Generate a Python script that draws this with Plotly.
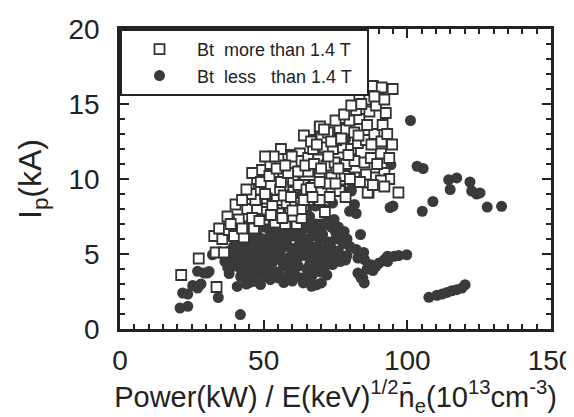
import plotly.graph_objects as go

# Bt more than 1.4 T (open squares)
sq_x = [21.3, 27.4, 33.6, 33.3, 36.2, 32.8, 35.6, 34.5, 37.9, 39.7, 43.1, 37.4, 41.4, 44.8,
        40.2, 44.3, 47.7, 51.1, 55.2, 59.2, 62.1, 50.0, 54.0, 57.5, 61.5, 42.5, 46.6, 47.1,
        51.1, 54.6, 58.0, 61.5, 47.7, 48.3, 55.7, 60.3, 49.4, 52.3, 53.4, 56.9, 60.9, 58.6,
        62.6, 60.9, 59.8, 63.2, 65.5, 69.0, 71.8, 74.7, 78.7, 81.6, 85.1, 87.3, 90.8, 65.5,
        69.5, 73.6, 78.2, 81.6, 85.6, 89.1, 92.0, 60.3, 63.8, 67.2, 71.3, 74.1, 77.6, 80.4,
        82.8, 85.6, 88.5, 91.4, 66.7, 75.3, 69.5, 72.4, 76.4, 78.7, 79.9, 83.3, 82.2, 86.8,
        89.1, 85.6, 92.0, 86.8, 90.2, 85.4, 94.9, 83.3, 94.7, 93.7, 93.7, 96.9, 86.5, 76.6,
        62.1, 64.9, 67.8, 70.1, 72.4, 76.4, 86.2, 90.8, 60.9, 63.8, 65.5, 69.5, 71.3, 60.3,
        63.2, 64.0, 88.0, 91.1, 66.5, 69.6,
        45.5, 46.0, 49.0, 50.5, 52.0, 53.0, 54.5, 56.0, 57.0, 58.5, 59.5, 62.0, 63.0, 64.5,
        66.5, 67.5, 68.5, 70.0, 71.0, 72.5, 73.5, 75.0, 76.0, 77.0, 78.0, 79.5, 80.5, 81.5,
        83.0, 84.0, 86.0, 87.5, 88.5, 89.5, 91.0, 92.5, 93.0, 56.0, 53.5, 57.5, 44.0, 42.5,
        38.5, 50.5, 46.0, 48.5, 52.5, 56.5, 60.0, 64.0, 67.0, 69.5, 73.0, 75.0, 78.5, 80.0,
        83.5, 88.0, 92.0]
sq_y = [3.6, 4.7, 2.8, 5.1, 5.1, 6.2, 6.0, 6.7, 6.6, 6.2, 6.1, 7.5, 7.3, 7.5,
        8.3, 8.0, 8.0, 7.8, 7.7, 7.8, 7.6, 7.3, 7.1, 7.0, 7.0, 6.7, 6.7, 8.6,
        8.7, 8.6, 8.4, 8.5, 10.0, 9.3, 9.3, 9.4, 10.6, 11.0, 10.2, 10.1, 9.8, 11.6,
        11.7, 11.0, 11.5, 11.2, 11.4, 11.3, 10.9, 11.1, 11.0, 11.2, 11.1, 11.4, 11.7, 10.5,
        10.3, 10.1, 10.2, 10.1, 10.3, 10.1, 10.4, 9.9, 9.6, 12.0, 12.1, 12.0, 12.1, 12.0,
        12.4, 12.6, 13.0, 13.6, 12.6, 12.6, 13.4, 13.1, 13.4, 13.3, 13.9, 14.0, 14.6, 14.5,
        14.9, 15.3, 15.3, 16.1, 16.0, 16.1, 16.0, 15.6, 12.3, 11.4, 10.0, 9.1, 9.1, 9.3,
        9.6, 9.3, 9.6, 9.1, 9.7, 9.2, 9.1, 9.9, 8.4, 8.2, 8.6, 8.6, 7.8, 7.5,
        7.4, 12.9, 16.2, 16.1, 12.5, 13.5,
        9.0, 10.4, 9.8, 9.0, 10.2, 8.2, 10.7, 9.8, 8.9, 10.4, 8.8, 10.5, 8.0, 10.9,
        9.4, 11.0, 12.3, 10.7, 13.3, 11.5, 12.5, 13.9, 10.7, 12.7, 14.3, 11.6, 14.9, 13.1,
        12.9, 15.0, 13.6, 12.3, 15.5, 11.0, 12.5, 14.4, 13.0, 12.0, 11.5, 10.9, 9.3, 8.6,
        7.0, 11.5, 7.4, 7.2, 7.6, 7.4, 7.9, 8.6, 8.8, 9.8, 8.8, 9.7, 8.8, 10.0,
        9.8, 9.6, 9.5]

# Bt less than 1.4 T (filled circles)
ci_x = [101.1, 103.4, 105.5, 114.4, 117.2, 114.9, 121.8, 122.4, 124.1, 125.3, 108.9, 105.2,
        127.8, 132.8, 94.0, 95.0, 94.3, 95.4, 99.8, 93.1,
        107.5, 110.3, 112.1, 113.8, 115.5, 117.2, 119.0, 120.1,
        80.5, 81.6, 79.9, 82.2, 83.7, 77.6, 78.7, 82.2, 82.8, 85.1, 87.3, 89.1, 90.2, 92.0,
        93.1, 82.8, 84.5, 83.9, 85.0,
        63.2, 63.8, 66.7, 68.4, 70.1,
        21.8, 23.6, 20.9, 23.6, 25.3, 27.0, 28.2, 27.0, 29.3, 30.4, 34.2, 32.2, 41.9, 31.0, 40.8,
        46.6, 48.9, 52.3, 55.2, 58.6, 46.0, 50.6, 54.0, 44.0, 45.0,
        78.5, 77.2, 72.2, 63.3, 80.4, 39.2,
        53.2, 55.7, 58.9, 60.5, 64.6, 66.0, 68.4, 72.2, 73.5,
        44.0, 47.0, 50.0, 52.0, 55.0, 57.0, 60.0, 62.0, 64.0, 67.0, 70.0, 75.0, 77.0,
        40.0, 42.5, 45.0, 47.5, 50.0, 52.5, 55.0, 57.5, 60.0, 62.5, 65.0, 67.5, 70.0, 72.5, 75.0,
        38.0, 39.5, 41.0, 43.5, 46.0, 48.5, 51.0, 53.5, 56.0, 58.5, 61.0, 63.5, 66.0, 68.5,
        71.0, 73.5, 76.0,
        39.0, 41.5, 44.0, 46.5, 49.0, 51.5, 54.0, 56.5, 59.0, 61.5, 64.0, 66.5, 69.0, 71.5,
        74.0, 79.0,
        39.5, 42.0, 44.5, 47.0, 49.5, 52.0, 57.0, 59.5, 62.0, 65.0, 68.0, 71.0, 74.0, 76.6, 78.5,
        42.0, 61.0, 66.0, 72.0, 38.0,
        40.5, 43.0, 45.5, 48.0, 50.5, 53.0, 55.5, 58.0, 60.5, 63.0, 65.5, 68.0, 70.5, 73.0,
        41.0, 43.0, 45.5, 48.0, 50.5, 53.0, 55.5, 58.0, 60.5, 63.0, 66.0, 69.0, 72.0,
        57.0, 62.5, 66.5, 70.0, 74.5, 76.0, 78.0, 79.0, 80.0, 75.5,
        44.5, 48.0, 51.0, 55.0, 57.0, 60.0, 67.0, 70.0, 36.5, 37.5, 38.0, 42.0, 49.0, 51.0,
        54.0, 57.0, 61.0, 62.0, 65.0, 68.0, 71.0, 74.0, 84.8, 86.0, 88.0, 97.0]
ci_y = [13.9, 10.85, 10.7, 9.95, 10.07, 9.3, 9.8, 9.2, 9.0, 9.07, 8.5, 7.85,
        8.13, 8.18, 8.1, 8.2, 10.95, 4.85, 4.95, 4.5,
        2.11, 2.25, 2.33, 2.44, 2.55, 2.62, 2.73, 2.95,
        9.2, 8.3, 7.85, 7.7, 6.3, 5.7, 5.85, 5.3, 4.73, 4.62, 4.29, 4.18, 4.4, 4.62,
        4.85, 3.73, 3.4, 3.4, 3.07,
        3.4, 3.07, 2.85, 2.95, 3.07,
        2.4, 2.33, 1.4, 1.51, 2.9, 2.73, 3.0, 3.85, 3.73, 3.73, 2.1, 4.95, 0.96, 3.84, 2.84,
        3.18, 2.96, 3.29, 3.4, 3.62, 3.84, 3.84, 3.73, 3.0, 3.1,
        12.65, 10.8, 10.9, 9.0, 9.3, 7.1,
        7.5, 7.2, 7.1, 7.6, 7.2, 7.5, 7.0, 7.2, 6.8,
        6.6, 6.5, 6.8, 6.6, 6.7, 6.5, 6.8, 6.5, 6.7, 6.5, 6.6, 6.5, 6.3,
        6.0, 5.9, 6.1, 5.8, 6.0, 6.2, 5.9, 6.1, 6.2, 5.9, 6.0, 6.2, 6.0, 5.8, 6.0,
        5.2, 5.5, 5.3, 5.5, 5.3, 5.5, 5.3, 5.6, 5.3, 5.5, 5.4, 5.6, 5.3, 5.5,
        5.3, 5.4, 5.2,
        4.7, 4.9, 4.6, 4.8, 4.6, 4.9, 4.7, 4.5, 4.8, 4.6, 4.9, 4.7, 4.5, 4.8,
        4.6, 4.9,
        4.2, 4.0, 4.3, 4.1, 4.3, 4.0, 4.2, 4.0, 4.2, 4.0, 4.2, 4.0, 4.3, 4.5, 4.6,
        3.5, 3.6, 3.5, 3.6, 3.7,
        6.4, 6.2, 5.6, 6.2, 5.6, 5.1, 6.3, 5.7, 5.0, 6.3, 5.7, 5.0, 6.3, 5.1,
        4.4, 5.0, 4.4, 5.1, 4.3, 4.4, 5.0, 4.4, 4.3, 5.2, 4.3, 4.8, 4.4,
        6.9, 7.3, 6.9, 7.0, 7.3, 6.8, 6.5, 6.0, 5.5, 4.8,
        3.6, 3.6, 3.5, 3.8, 3.1, 3.2, 3.6, 3.8, 4.5, 4.1, 6.3, 7.0, 7.0, 7.4,
        7.9, 7.7, 8.0, 8.3, 8.0, 8.2, 8.0, 8.4, 5.1, 4.0, 3.9, 4.9]

ink = "#222222"
font = "Liberation Sans, Arial, Helvetica, sans-serif"

fig = go.Figure()
fig.add_trace(go.Scatter(x=ci_x, y=ci_y, mode="markers",
                         name="Bt\u00a0\u00a0less\u00a0\u00a0\u00a0than 1.4 T\u00a0\u00a0",
                         marker=dict(symbol="circle", size=11, color="#3a3a3a",
                                     line=dict(width=0))))
fig.add_trace(go.Scatter(x=sq_x, y=sq_y, mode="markers",
                         name="Bt\u00a0\u00a0more than 1.4 T\u00a0\u00a0",
                         marker=dict(symbol="square", size=10, color="white",
                                     line=dict(width=1.8, color="#333333"))))

axis_common = dict(showline=True, linewidth=2.5, linecolor=ink, mirror="ticks",
                   ticks="inside", ticklen=9, tickwidth=2, tickcolor=ink,
                   showgrid=False, zeroline=False, automargin=False,
                   tickfont=dict(family=font, size=28, color=ink))

fig.update_layout(
    width=574, height=417,
    margin=dict(l=112, r=31, t=21, b=96),
    paper_bgcolor="white", plot_bgcolor="white",
    font=dict(family=font, color=ink),
    showlegend=True,
    legend=dict(x=0, y=1, xanchor="left", yanchor="top", traceorder="reversed",
                bgcolor="white", bordercolor=ink, borderwidth=2,
                itemwidth=65, font=dict(family=font, size=18, color=ink)),
    xaxis=dict(range=[0, 150], tickvals=[0, 50, 100, 150], ticklabelstandoff=5,
               minor=dict(dtick=5, ticks="inside", ticklen=5, tickwidth=1.5, tickcolor=ink),
               title=dict(text="Power(kW) / E(keV)<sup>1/2</sup>n\u0304<sub>e</sub>(10<sup>13</sup>cm<sup>-3</sup>)",
                          font=dict(family=font, size=29, color=ink), standoff=2),
               **axis_common),
    yaxis=dict(range=[0, 20], tickvals=[0, 5, 10, 15, 20], ticklabelstandoff=12,
               minor=dict(dtick=1, ticks="inside", ticklen=5, tickwidth=1.5, tickcolor=ink),
               title=dict(text="I<sub>p</sub>(kA)", font=dict(family=font, size=32, color=ink),
                          standoff=18),
               **axis_common),
)

fig.write_html("out.html")
